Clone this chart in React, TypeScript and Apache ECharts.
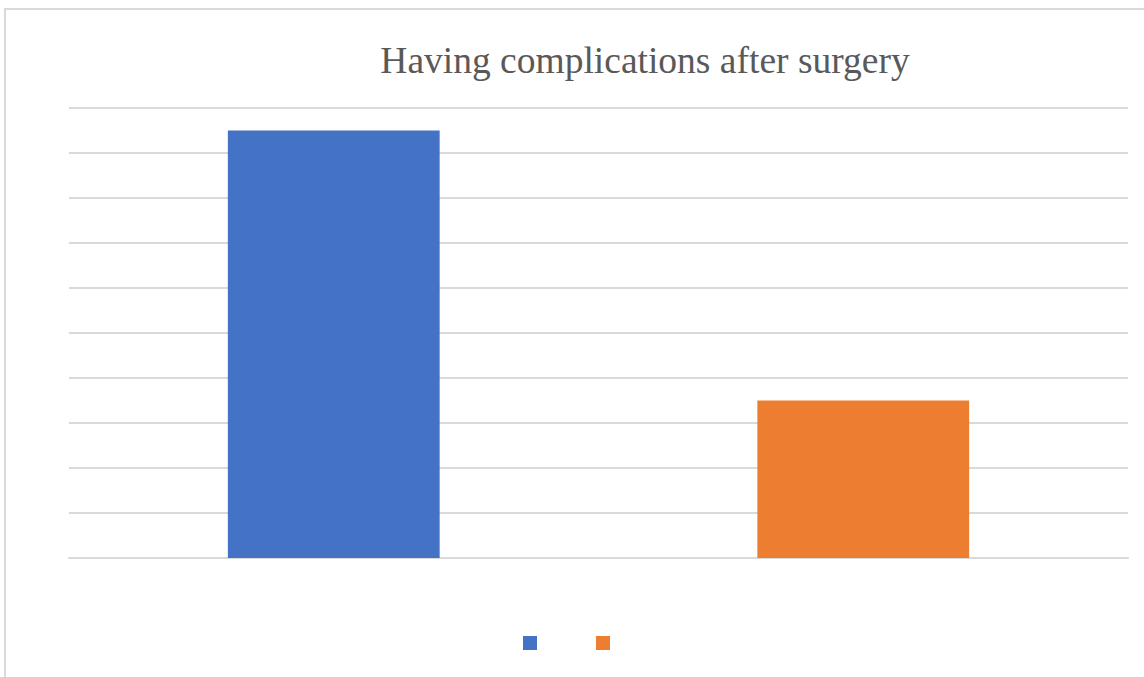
import React, { useEffect, useRef } from "react";
import * as echarts from "echarts";

// Answers to the question and their counts
const categories = ["Yes", "No"];
const seriesNames = ["Yes", "No"];
const yesValues = [9.5, null];
const noValues = [null, 3.5];
const barColors = ["#4472C4", "#ED7D31"];

const titleText = "Having complications after surgery";

export default function App() {
  const ref = useRef<HTMLDivElement>(null);

  useEffect(() => {
    if (!ref.current) return;
    const chart = echarts.init(ref.current, undefined, { renderer: "svg" });
    chart.setOption({
      animation: false,
      backgroundColor: "#ffffff",
      graphic: [
        {
          type: "rect",
          shape: { x: 5, y: 9, width: 1400, height: 800 },
          style: { fill: "none", stroke: "#D9D9D9", lineWidth: 2 },
          silent: true,
        },
      ],
      title: {
        text: titleText,
        left: 640,
        top: 36,
        textAlign: "center",
        textStyle: {
          fontFamily: "'Liberation Serif', 'Times New Roman', serif",
          fontWeight: "normal",
          fontSize: 37.5,
          color: "#595959",
        },
      },
      legend: {
        data: seriesNames,
        left: 518,
        top: 631,
        itemWidth: 14,
        itemHeight: 14,
        itemGap: 59,
        icon: "rect",
        formatter: () => "",
        textStyle: { fontSize: 1 },
      },
      grid: { left: 69, right: 16, top: 108, bottom: 119 },
      xAxis: {
        type: "category",
        data: categories,
        axisLine: { show: true, lineStyle: { color: "#D9D9D9", width: 2 } },
        axisTick: { show: false },
        axisLabel: { show: false },
      },
      yAxis: {
        type: "value",
        min: 0,
        max: 10,
        interval: 1,
        axisLine: { show: false },
        axisTick: { show: false },
        axisLabel: { show: false },
        splitLine: { lineStyle: { color: "#D9D9D9", width: 2 } },
      },
      series: [
        {
          name: seriesNames[0],
          type: "bar",
          stack: "total",
          data: yesValues,
          barWidth: "40%",
          itemStyle: { color: barColors[0] },
        },
        {
          name: seriesNames[1],
          type: "bar",
          stack: "total",
          data: noValues,
          barWidth: "40%",
          itemStyle: { color: barColors[1] },
        },
      ],
    });
    return () => chart.dispose();
  }, []);

  return (
    <div
      ref={ref}
      style={{ position: "fixed", left: 0, top: 0, width: 1144, height: 677 }}
    />
  );
}
